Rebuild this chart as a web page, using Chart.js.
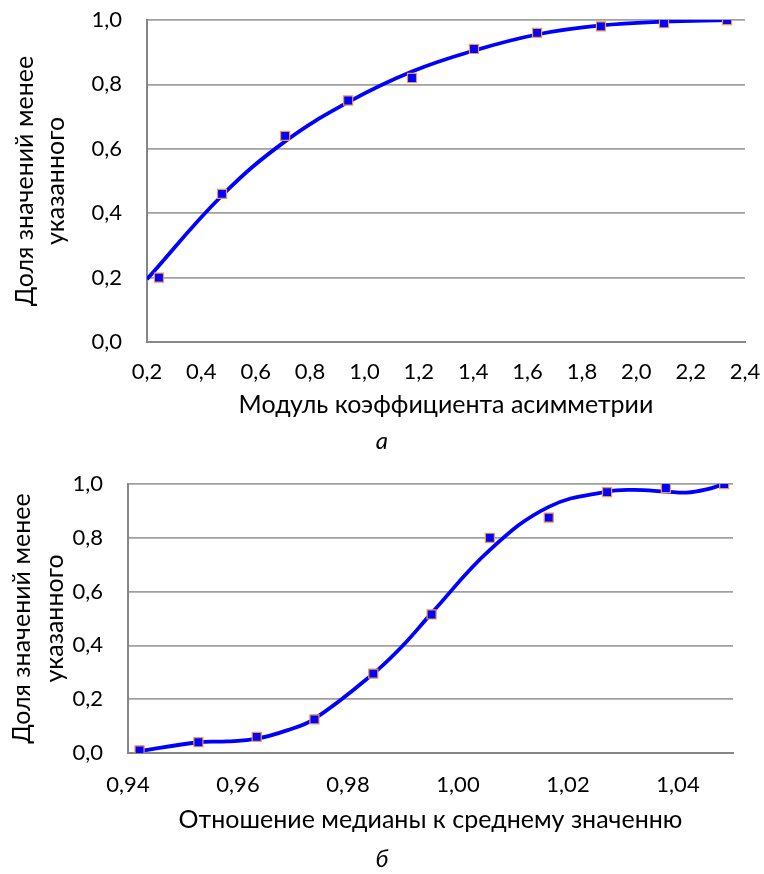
<!DOCTYPE html>
<html>
<head>
<meta charset="utf-8">
<script src="https://cdn.jsdelivr.net/npm/chart.js@4"></script>
<style>
  body { margin: 0; background: #fff; width: 764px; height: 874px; position: relative; overflow: hidden; font-family: Lato, "Open Sans", sans-serif; }
  .box { position: absolute; left: 0; width: 764px; }
  #boxA { top: 0; height: 460px; }
  #boxB { top: 460px; height: 414px; }
  .cap { position: absolute; left: 0; width: 764px; text-align: center; font-style: italic; font-size: 24px; line-height: 28px; color: #000; }
</style>
</head>
<body>
<div class="box" id="boxA"><canvas id="chartA"></canvas></div>
<div class="box" id="boxB"><canvas id="chartB"></canvas></div>
<div class="cap" style="top:426px">а</div>
<div class="cap" style="top:844px">б</div>

<script>
// --- chart a: module of the asymmetry coefficient ---
const asymX = [0.244, 0.476, 0.708, 0.940, 1.175, 1.403, 1.635, 1.870, 2.102, 2.334];
const asymY = [0.20, 0.46, 0.64, 0.75, 0.82, 0.91, 0.96, 0.98, 0.99, 1.00];
// trend line
const asymFitX = [0.200, 0.476, 0.708, 0.940, 1.175, 1.403, 1.635, 1.870, 2.102, 2.334];
const asymFitY = [0.195, 0.455, 0.623, 0.745, 0.840, 0.905, 0.955, 0.983, 0.995, 1.000];
const asymTicks = [0.2, 0.4, 0.6, 0.8, 1.0, 1.2, 1.4, 1.6, 1.8, 2.0, 2.2, 2.4];

// --- chart b: median to mean ratio ---
const ratioX = [0.9421, 0.9528, 0.9634, 0.9739, 0.9846, 0.9952, 1.0058, 1.0165, 1.0271, 1.0378, 1.0484];
const ratioY = [0.01, 0.04, 0.06, 0.125, 0.295, 0.515, 0.80, 0.875, 0.97, 0.985, 1.00];
const ratioFitX = [0.9421, 0.9528, 0.958, 0.9634, 0.9689, 0.9739, 0.9846, 0.990, 0.9952, 1.0058, 1.0165, 1.0271, 1.032, 1.0378, 1.0416, 1.0452, 1.0484];
const ratioFitY = [0.007, 0.040, 0.043, 0.053, 0.084, 0.127, 0.295, 0.400, 0.520, 0.755, 0.915, 0.972, 0.978, 0.972, 0.968, 0.980, 1.000];
const ratioTicks = [0.94, 0.96, 0.98, 1.00, 1.02, 1.04];

const shareTicks = [0, 0.2, 0.4, 0.6, 0.8, 1.0];
const yTitle = ['Доля значений менее', 'указанного'];

Chart.defaults.font.family = 'Lato, "Open Sans", sans-serif';
Chart.defaults.color = '#000';

function pts(xs, ys) {
  return xs.map((x, i) => ({ x: x, y: ys[i] }));
}

function makeChart(id, o) {
  return new Chart(document.getElementById(id), {
    type: 'scatter',
    data: {
      datasets: [
        {
          data: pts(o.x, o.y),
          pointStyle: 'rect',
          pointRadius: 6.4,
          pointHoverRadius: 6.4,
          backgroundColor: '#0000ff',
          borderColor: '#f79646',
          borderWidth: 1.2,
          showLine: false
        },
        {
          data: pts(o.fitX, o.fitY),
          showLine: true,
          tension: 0.4,
          borderColor: '#0000ff',
          borderWidth: 3.8,
          pointRadius: 0,
          fill: false
        }
      ]
    },
    options: {
      responsive: true,
      maintainAspectRatio: false,
      animation: false,
      events: [],
      layout: { padding: o.pad },
      plugins: { legend: { display: false }, tooltip: { enabled: false } },
      scales: {
        x: {
          type: 'linear',
          min: o.xMin,
          max: o.xMax,
          afterBuildTicks: s => { s.ticks = o.ticks.map(v => ({ value: v })); },
          afterFit: s => { s.height = o.xH; s.paddingLeft = 0; s.paddingRight = 0; },
          grid: { display: false, drawTicks: false },
          border: { display: true, color: '#868686', width: 2 },
          ticks: {
            padding: o.xPad,
            maxRotation: 0,
            autoSkip: false,
            font: { size: 22 },
            callback: v => v.toFixed(o.dec).replace('.', ',')
          },
          title: {
            display: true,
            text: o.xTitle,
            font: { size: 25 },
            padding: { top: 0, bottom: 0 }
          }
        },
        y: {
          type: 'linear',
          min: 0,
          max: 1,
          afterBuildTicks: s => { s.ticks = shareTicks.map(v => ({ value: v })); },
          afterFit: s => { s.width = o.yW; s.paddingTop = 0; s.paddingBottom = 0; },
          grid: { color: '#a0a0a0', lineWidth: 1.7, drawTicks: false },
          border: { display: true, color: '#868686', width: 2 },
          ticks: {
            padding: 25,
            font: { size: 22 },
            callback: v => v.toFixed(1).replace('.', ',')
          },
          title: {
            display: true,
            text: yTitle,
            font: { size: 25, lineHeight: o.yLH },
            padding: { top: o.yTP, bottom: 0 }
          }
        }
      }
    }
  });
}

makeChart('chartA', {
  x: asymX, y: asymY, fitX: asymFitX, fitY: asymFitY,
  xMin: 0.2, xMax: 2.4, ticks: asymTicks, dec: 1,
  xTitle: 'Модуль коэффициента асимметрии',
  pad: { top: 20, right: 19, bottom: 40, left: 0 },
  xH: 78, xPad: 17, yW: 147, yLH: 1.26, yTP: 9
});

makeChart('chartB', {
  x: ratioX, y: ratioY, fitX: ratioFitX, fitY: ratioFitY,
  xMin: 0.94, xMax: 1.05, ticks: ratioTicks, dec: 2,
  xTitle: 'Отношение медианы к среднему значенню',
  pad: { top: 24, right: 31, bottom: 39, left: 0 },
  xH: 82, xPad: 19, yW: 128, yLH: 1.32, yTP: 5
});
</script>
</body>
</html>
